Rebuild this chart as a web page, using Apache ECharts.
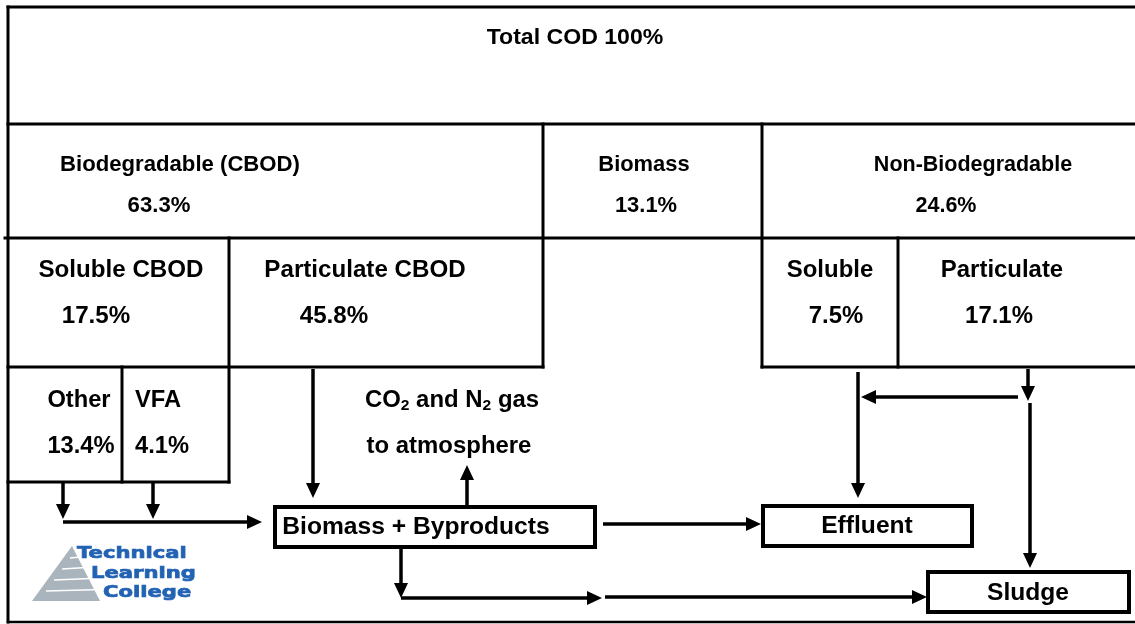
<!DOCTYPE html>
<html>
<head>
<meta charset="utf-8">
<title>Total COD fractions</title>
<script src="https://cdn.jsdelivr.net/npm/echarts@6/dist/echarts.min.js"></script>
<style>
html, body { margin: 0; padding: 0; background: #fff; }
#chart { width: 1135px; height: 624px; }
</style>
</head>
<body>
<div id="chart"></div>
<script>
// COD fractions, percent of total COD
var fractionNames = ['Total COD', 'Biodegradable (CBOD)', 'Biomass', 'Non-Biodegradable',
    'Soluble CBOD', 'Particulate CBOD', 'Soluble', 'Particulate', 'Other', 'VFA'];
var fractionValues = [100, 63.3, 13.1, 24.6, 17.5, 45.8, 7.5, 17.1, 13.4, 4.1];
var outletNames = ['Biomass + Byproducts', 'Effluent', 'Sludge'];
var gasText = ['{n|CO}{s|2}{n| and N}{s|2}{n| gas}', '{n|to atmosphere}'];
var logoWords = ['Technical', 'Learning', 'College'];

// ---- layout (diagram units, same as the 1135 x 624 page) ----
// [nameX, nameY, valueX, valueY, fontSize, scaleX]
var fractionPos = [
    [575, 38, null, null, 22, 1.05],
    [180, 165, 159, 206, 21.5, 1.03],
    [644, 165, 646, 206, 21.5, 1.02],
    [973, 165, 946, 206, 21.5, 1.0],
    [121, 271, 96, 317, 23, 1.05],
    [365, 271, 334, 317, 23, 1.05],
    [830, 271, 836, 317, 23, 1.04],
    [1002, 271, 999, 317, 23, 1.04],
    [79, 401, 81, 447, 23, 1.03],
    [158, 401, 162, 447, 23, 1.03]
];
var outletPos = [[416, 528], [867, 527], [1028, 594]];
var outletBoxes = [[275, 507, 595, 547], [763, 506, 972, 546], [928, 572, 1129, 612]];
var gasPos = [[452, 401], [449, 447]];
var logoPos = [[77, 554], [91, 574], [103, 593]];

// table rules
var rules = [
    [8, 7, 1135, 7], [8, 7, 8, 622], [8, 622, 1135, 622],
    [8, 124, 1135, 124], [5, 238, 1135, 238],
    [543, 124, 543, 367], [762, 124, 762, 367],
    [8, 367, 543, 367], [762, 367, 1135, 367],
    [229, 238, 229, 482], [898, 238, 898, 367],
    [122, 367, 122, 482], [8, 482, 229, 482]
];
// flow arrows, tip at the second point
var arrows = [
    [63, 482, 63, 519], [153, 482, 153, 519], [63, 522, 262, 522],
    [313, 369, 313, 498], [467, 507, 467, 465],
    [603, 524, 761, 524],
    [401, 547, 401, 598], [401, 598, 602, 598], [605, 597, 927, 597],
    [858, 372, 858, 498], [1018, 397, 861, 397],
    [1028, 369, 1028, 401], [1030, 403, 1030, 568]
];
var logoTriangle = [[72, 546], [32, 601], [100, 601]];
var logoStripes = [558, 569, 580, 591];

var FONT = '"Liberation Sans", Arial, sans-serif';

// build text items from the value arrays
var texts = [];
fractionNames.forEach(function (name, i) {
    var p = fractionPos[i];
    var pct = fractionValues[i] === 100 ? '100%' : fractionValues[i].toFixed(1) + '%';
    if (p[2] === null) {
        texts.push([p[0], p[1], name + ' ' + pct, p[4], p[5], '#000']);
    } else {
        texts.push([p[0], p[1], name, p[4], p[5], '#000']);
        texts.push([p[2], p[3], pct, p[4], p[5], '#000']);
    }
});
outletNames.forEach(function (name, i) {
    texts.push([outletPos[i][0], outletPos[i][1], name, 23, 1.07, '#000']);
});

function seg(api, d, w) {
    var a = api.coord([d[0], d[1]]), b = api.coord([d[2], d[3]]);
    return {
        type: 'line',
        shape: { x1: a[0], y1: a[1], x2: b[0], y2: b[1] },
        style: { stroke: '#000', lineWidth: w, lineCap: 'square' }
    };
}

var myChart = echarts.init(document.getElementById('chart'));

var option = {
    animation: false,
    backgroundColor: '#fff',
    grid: { left: 0, right: 0, top: 0, bottom: 0 },
    xAxis: { type: 'value', min: 0, max: 1135, show: false },
    yAxis: { type: 'value', min: 0, max: 624, inverse: true, show: false },
    series: [
        {
            name: 'rules',
            type: 'custom',
            coordinateSystem: 'cartesian2d',
            data: rules,
            encode: { x: [0, 2], y: [1, 3] },
            renderItem: function (params, api) {
                var d = [api.value(0), api.value(1), api.value(2), api.value(3)];
                var w = d[1] === 622 && d[3] === 622 ? 2.5 : 3;
                return seg(api, d, w);
            }
        },
        {
            name: 'outlets',
            type: 'custom',
            coordinateSystem: 'cartesian2d',
            data: outletBoxes,
            encode: { x: [0, 2], y: [1, 3] },
            renderItem: function (params, api) {
                var a = api.coord([api.value(0), api.value(1)]);
                var b = api.coord([api.value(2), api.value(3)]);
                return {
                    type: 'rect',
                    shape: { x: a[0], y: a[1], width: b[0] - a[0], height: b[1] - a[1] },
                    style: { fill: '#fff', stroke: '#000', lineWidth: 4 }
                };
            }
        },
        {
            name: 'arrows',
            type: 'custom',
            coordinateSystem: 'cartesian2d',
            data: arrows,
            encode: { x: [0, 2], y: [1, 3] },
            renderItem: function (params, api) {
                var a = api.coord([api.value(0), api.value(1)]);
                var b = api.coord([api.value(2), api.value(3)]);
                var dx = b[0] - a[0], dy = b[1] - a[1];
                var len = Math.sqrt(dx * dx + dy * dy);
                var ux = dx / len, uy = dy / len, hl = 15, hw = 7;
                var bx = b[0] - ux * hl, by = b[1] - uy * hl;
                return {
                    type: 'group',
                    children: [
                        {
                            type: 'line',
                            shape: { x1: a[0], y1: a[1], x2: bx + ux, y2: by + uy },
                            style: { stroke: '#000', lineWidth: 3.5 }
                        },
                        {
                            type: 'polygon',
                            shape: { points: [[b[0], b[1]], [bx - uy * hw, by + ux * hw], [bx + uy * hw, by - ux * hw]] },
                            style: { fill: '#000' }
                        }
                    ]
                };
            }
        },
        {
            name: 'labels',
            type: 'custom',
            coordinateSystem: 'cartesian2d',
            data: texts.map(function (t) { return [t[0], t[1]]; }),
            renderItem: function (params, api) {
                var t = texts[params.dataIndex];
                var p = api.coord([api.value(0), api.value(1)]);
                return {
                    type: 'text',
                    x: p[0], y: p[1],
                    scaleX: t[4],
                    style: {
                        text: t[2],
                        fill: t[5],
                        fontSize: t[3],
                        fontWeight: 'bold',
                        fontFamily: FONT,
                        align: 'center',
                        verticalAlign: 'middle'
                    }
                };
            }
        },
        {
            name: 'gas',
            type: 'custom',
            coordinateSystem: 'cartesian2d',
            data: gasPos,
            renderItem: function (params, api) {
                var p = api.coord([api.value(0), api.value(1)]);
                return {
                    type: 'text',
                    x: p[0], y: p[1],
                    scaleX: 1.04,
                    style: {
                        text: gasText[params.dataIndex],
                        align: 'center',
                        verticalAlign: 'middle',
                        rich: {
                            n: { fontSize: 23, fontWeight: 'bold', fontFamily: FONT, fill: '#000', lineHeight: 28 },
                            s: { fontSize: 15, fontWeight: 'bold', fontFamily: FONT, fill: '#000', padding: [10, 0, 0, 0], lineHeight: 28 }
                        }
                    }
                };
            }
        },
        {
            name: 'logo',
            type: 'custom',
            coordinateSystem: 'cartesian2d',
            data: [[72, 546]],
            renderItem: function (params, api) {
                var pts = logoTriangle.map(function (q) { return api.coord(q); });
                var children = [{
                    type: 'polygon',
                    shape: { points: pts },
                    style: { fill: '#a9b4bc' }
                }];
                logoStripes.forEach(function (y, i) {
                    var a = api.coord([30, y]), b = api.coord([102, y - 3 + i * 0.5]);
                    children.push({
                        type: 'line',
                        shape: { x1: a[0] + 40 - i * 8, y1: a[1], x2: b[0], y2: b[1] },
                        style: { stroke: '#fff', lineWidth: 1.6 }
                    });
                });
                logoWords.forEach(function (w, i) {
                    var p = api.coord(logoPos[i]);
                    children.push({
                        type: 'text',
                        x: p[0], y: p[1],
                        scaleX: 1.28,
                        style: {
                            text: w,
                            fill: '#2262b3',
                            stroke: '#2262b3',
                            lineWidth: 0.7,
                            fontSize: 16.5,
                            fontWeight: 'bold',
                            fontFamily: '"DejaVu Sans", Verdana, sans-serif',
                            align: 'left',
                            verticalAlign: 'middle'
                        }
                    });
                });
                return { type: 'group', children: children };
            }
        }
    ]
};

myChart.setOption(option);
</script>
</body>
</html>
